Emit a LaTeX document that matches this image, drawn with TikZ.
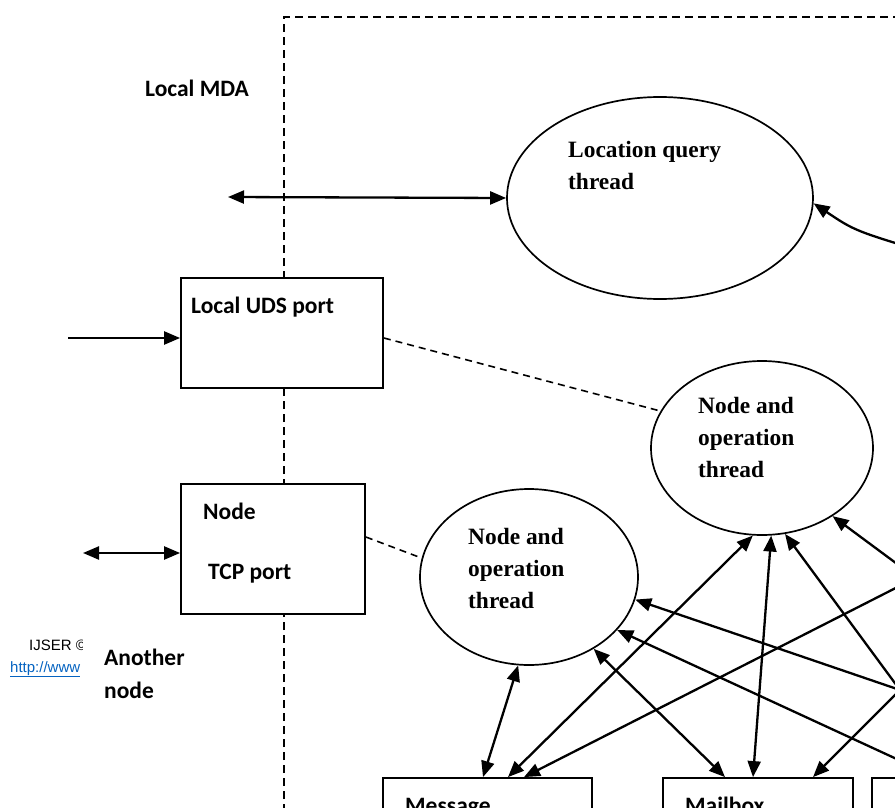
\documentclass[tikz,border=0pt]{standalone}
\usepackage{fontspec}
\setmainfont{Liberation Serif}
\newfontfamily\calibfont{Carlito}
\newfontfamily\arialfont{Liberation Sans}
\usetikzlibrary{arrows.meta,shapes.geometric}
\definecolor{linkblue}{RGB}{5,99,193}

\begin{document}
\begin{tikzpicture}[
    x=1pt, y=-1pt,
    >={Triangle[length=16pt,width=13pt]},
    box/.style={draw, line width=1.8pt, fill=white, inner sep=0pt},
    thread/.style={draw, ellipse, line width=1.7pt, inner sep=0pt},
    sanslbl/.style={font=\calibfont\bfseries\fontsize{23.5}{33}\selectfont, inner sep=0pt, align=left, anchor=base west},
    seriflbl/.style={font=\bfseries\fontsize{23.4}{32}\selectfont, inner sep=0pt, align=left, anchor=base west},
    link/.style={line width=2.3pt},
    dashlink/.style={line width=1.6pt, dash pattern=on 7pt off 5pt}
  ]
  \clip (0,0) rectangle (895,808);

  \draw[line width=1.7pt, dash pattern=on 8pt off 5pt] (284,812) -- (284,17) -- (900,17);

  \node[sanslbl] (mdaT) at (145,97) {Local MDA};

  \node[box, minimum width=202pt, minimum height=110pt] (uds) at (282,333) {};
  \node[sanslbl] (udsT) at (191,313) {Local UDS port};
  \node[box, minimum width=184pt, minimum height=130pt] (tcp) at (273,549) {};
  \node[sanslbl] (tcpT1) at (203,519) {Node};
  \node[sanslbl] (tcpT2) at (208,579) {TCP port};

  \node[thread, minimum width=306pt, minimum height=202pt] (loc) at (660,198) {};
  \node[seriflbl] (locT) at (568,189) {Location query\\thread};
  \node[thread, minimum width=222pt, minimum height=174pt] (e2) at (762,448) {};
  \node[seriflbl] (e2T) at (698,477) {Node and\\operation\\thread};
  \node[thread, minimum width=218pt, minimum height=176pt] (e3) at (529,577) {};
  \node[seriflbl] (e3T) at (468,608) {Node and\\operation\\thread};

  \node[box, minimum width=209pt, minimum height=80pt] (msg) at (487.5,818) {};
  \node[sanslbl] (msgT) at (405,813) {Message};
  \node[box, minimum width=190pt, minimum height=80pt] (mbx) at (758,818) {};
  \node[sanslbl] (mbxT) at (685,813) {Mailbox};
  \node[box, minimum width=100pt, minimum height=80pt] (third) at (922,818) {};

  \node[sanslbl] (anoT) at (104,698) {Another\\node};
  \begin{scope}
    \clip (0,620) rectangle (82,690);
    \node[font=\arialfont\fontsize{15}{18}\selectfont, inner sep=0pt, anchor=base west] (ijserT) at (29,650) {IJSER ©};
    \node[font=\arialfont\fontsize{15}{18}\selectfont, text=linkblue, inner sep=0pt, anchor=base west] (httpT) at (10,672) {\underline{http://www}};
  \end{scope}

  \coordinate (mdaL) at (228,197);
  \coordinate (udsIn) at (68,338);
  \coordinate (tcpL) at (83,553);
  \coordinate (r1) at (935,568);
  \coordinate (r2) at (935,592);
  \coordinate (r3) at (940,779);
  \coordinate (r4) at (935,255);
  \coordinate (hub) at (900,690);

  \draw[link, <->] (mdaL) -- (loc.west);
  \draw[link, ->] (udsIn) -- (uds.west |- udsIn);
  \draw[link, <->] (tcpL) -- (tcp.west |- tcpL);
  \draw[link, ->] (r4) .. controls (855,231) .. (loc.-2.6);

  \draw[dashlink] ([yshift=-5pt]uds.east) -- (e2.160.9);
  \draw[dashlink] ([yshift=12pt]tcp.east) -- (e3.170);

  \draw[link, <->] (e3.-97.6) -- ([xshift=-4.5pt]msg.north);
  \draw[link, <->] (e2.-96.4) -- ([xshift=20.5pt]msg.north);
  \draw[link, ->] (r1) -- ([xshift=36.5pt]msg.north);
  \draw[link, <->] (e3.-48.6) -- ([xshift=-33pt]mbx.north);
  \draw[link, <->] (e2.-84.9) -- ([xshift=-5pt]mbx.north);
  \draw[link, ->] (hub) -- (e2.-75.5);
  \draw[link, ->] (hub) -- (e3.-12.9);
  \draw[link, ->] (hub) -- ([xshift=55pt]mbx.north);
  \draw[link, ->] (r3) -- (e3.-31.1);
  \draw[link, ->] (r2) -- (e2.-44.6);
\end{tikzpicture}
\end{document}
